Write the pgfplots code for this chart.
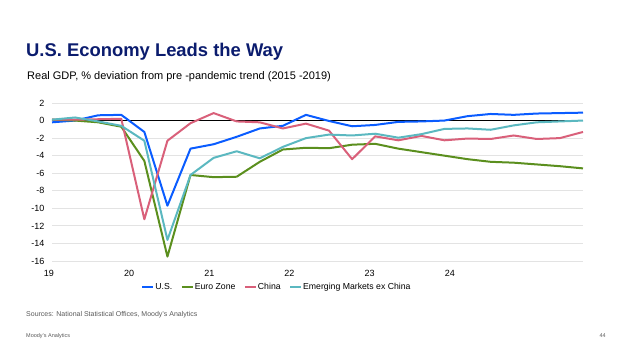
\documentclass[border=0pt]{standalone}
\usepackage{fontspec}
\setmainfont{Liberation Sans}
\usepackage{pgfplots}
\pgfplotsset{compat=1.18}
\definecolor{usblue}{HTML}{0A5CFF}
\definecolor{eugreen}{HTML}{5B8F1E}
\definecolor{cnred}{HTML}{D9607A}
\definecolor{emteal}{HTML}{5BB8C0}
\definecolor{titlenavy}{HTML}{0B1C6E}
\definecolor{gridgray}{HTML}{E3E3E3}
\begin{document}
\begin{tikzpicture}
\path[use as bounding box] (0bp,0bp) rectangle (624bp,352bp);
\node[anchor=base west,inner sep=0,font=\fontsize{18.4bp}{20bp}\selectfont\bfseries,text=titlenavy] at (26bp,295.3bp) {U.S. Economy Leads the Way};
\node[anchor=base west,inner sep=0,font=\fontsize{11bp}{13bp}\selectfont] at (27bp,272bp) {Real GDP, \% deviation from pre -pandemic trend (2015 -2019)};
\node[anchor=base west,inner sep=0,font=\fontsize{7bp}{8bp}\selectfont,text=black!65] at (26bp,36bp) {Sources: National Statistical Offices, Moody's Analytics};
\node[anchor=base west,inner sep=0,font=\fontsize{5.5bp}{6bp}\selectfont,text=black!65] at (26bp,15bp) {Moody's Analytics};
\node[anchor=base east,inner sep=0,font=\fontsize{5.5bp}{6bp}\selectfont,text=black!65] at (606bp,15bp) {44};
\begin{axis}[
  at={(52bp,91bp)}, anchor=south west,
  scale only axis, width=531bp, height=158bp,
  xmin=0, xmax=23, ymin=-16, ymax=2,
  ytick={-16,-14,...,2},
  xtick={0,3.472,6.944,10.416,13.888,17.36},
  xticklabels={19,20,21,22,23,24},
  major tick length=0,
  axis line style={draw=none},
  ymajorgrids, grid style={gridgray, line width=0.8bp},
  tick label style={font=\fontsize{9bp}{10bp}\selectfont},
  /pgf/number format/assume math mode=true,
  yticklabel style={xshift=-4bp},
  xticklabel style={xshift=-3bp, yshift=-6bp},
  legend columns=-1,
  legend style={at={(axis description cs:0.168,-0.165)}, anchor=west, draw=none, fill=none,
    font=\fontsize{8.7bp}{10bp}\selectfont, inner sep=0pt, nodes={inner sep=1bp},
    /tikz/every even column/.append style={column sep=7.5bp}},
  legend image code/.code={\draw[#1, line width=2bp] (0bp,0bp) -- (11bp,0bp);},
  every axis plot/.append style={line width=2bp, line join=round},
  clip=false,
]
\addplot[black, line width=0.8bp, forget plot] coordinates {(0,0) (23,0)};
\addplot[usblue] coordinates {
(0,-0.2) (1,0.0) (2,0.6) (3,0.65) (4,-1.3) (5,-9.7) (6,-3.2) (7,-2.7)
(8,-1.85) (9,-0.9) (10,-0.6) (11,0.65) (12,-0.05) (13,-0.65) (14,-0.5) (15,-0.15)
(16,-0.1) (17,0.0) (18,0.5) (19,0.75) (20,0.65) (21,0.8) (22,0.85) (23,0.9)};
\addlegendentry{U.S.}
\addplot[eugreen] coordinates {
(0,0.1) (1,0.0) (2,-0.2) (3,-0.7) (4,-4.6) (5,-15.5) (6,-6.2) (7,-6.45)
(8,-6.4) (9,-4.7) (10,-3.3) (11,-3.1) (12,-3.15) (13,-2.75) (14,-2.65) (15,-3.2)
(16,-3.6) (17,-4.0) (18,-4.4) (19,-4.7) (20,-4.8) (21,-5.0) (22,-5.2) (23,-5.45)};
\addlegendentry{Euro Zone}
\addplot[cnred] coordinates {
(0,0.1) (1,0.1) (2,0.15) (3,0.2) (4,-11.25) (5,-2.3) (6,-0.3) (7,0.85)
(8,-0.1) (9,-0.2) (10,-0.9) (11,-0.35) (12,-1.15) (13,-4.4) (14,-1.8) (15,-2.25)
(16,-1.75) (17,-2.25) (18,-2.05) (19,-2.1) (20,-1.7) (21,-2.1) (22,-2.0) (23,-1.3)};
\addlegendentry{China}
\addplot[emteal] coordinates {
(0,0.1) (1,0.35) (2,-0.1) (3,-0.6) (4,-2.3) (5,-13.6) (6,-6.2) (7,-4.25)
(8,-3.5) (9,-4.3) (10,-3.0) (11,-2.0) (12,-1.6) (13,-1.7) (14,-1.5) (15,-1.95)
(16,-1.55) (17,-0.95) (18,-0.9) (19,-1.05) (20,-0.55) (21,-0.2) (22,-0.1) (23,0.0)};
\addlegendentry{Emerging Markets ex China}
\end{axis}
\end{tikzpicture}
\end{document}
